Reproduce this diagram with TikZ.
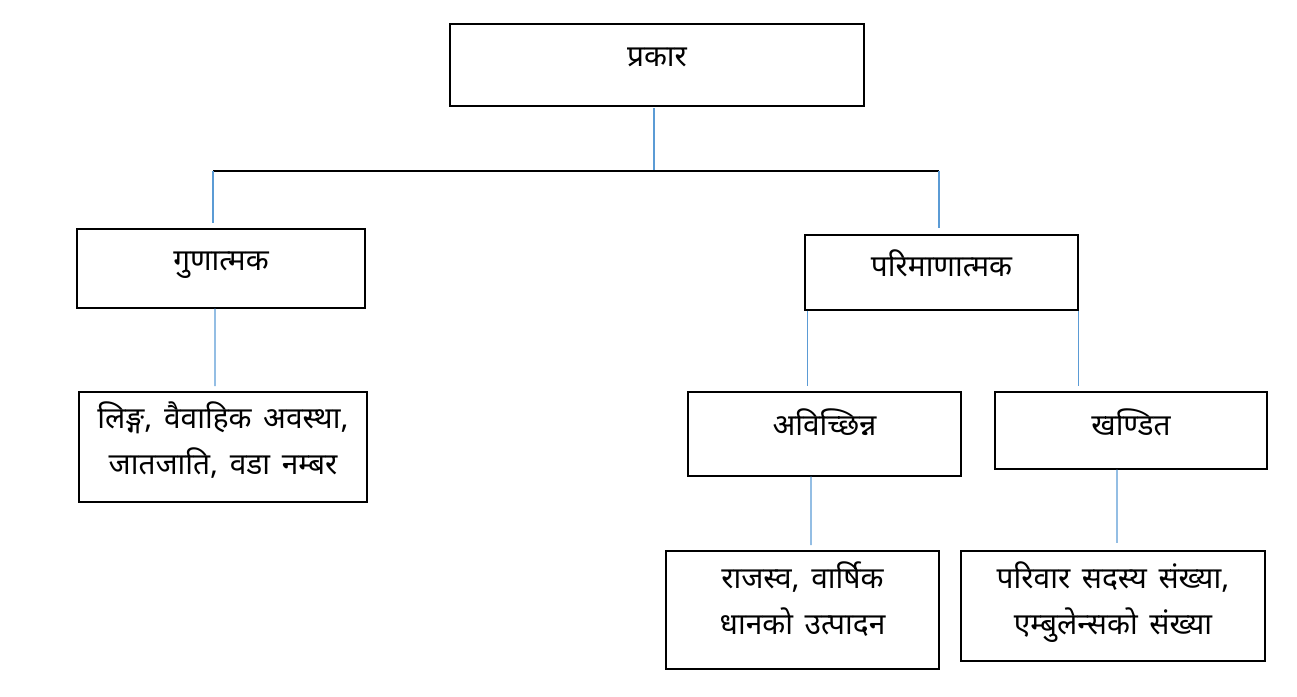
\documentclass[tikz,border=0pt]{standalone}
\usepackage{fontspec}
\newfontfamily\devfont[Script=Devanagari, WordSpace=1.5]{Noto Sans}
\definecolor{linkblue}{RGB}{91,155,213}
\begin{document}
\begin{tikzpicture}[x=0.2mm, y=-0.2mm,
        box/.style={draw, line width=0.85pt, inner sep=0pt, align=center, anchor=north},
        link/.style={draw=linkblue, line width=0.6pt},
        bar/.style={draw=black, line width=0.75pt},
        font=\devfont\fontsize{17}{26.5}\selectfont]
    \useasboundingbox (0,0) rectangle (1297,696);

    \node[box, minimum width=82.8mm, text height=8.6mm,  text depth=7.8mm] (prakar)  at (657,23)    {प्रकार};
    \node[box, minimum width=57.6mm, text height=8.4mm,  text depth=7.4mm] (guna)    at (221,228)   {गुणात्मक};
    \node[box, minimum width=54.6mm, text height=8.4mm,  text depth=6.6mm] (pari)    at (941.5,234) {परिमाणात्मक};
    \node[box, minimum width=57.6mm, text height=16.6mm, text depth=5.4mm] (linga)   at (223,391)   {लिङ्ग, वैवाहिक अवस्था,\\जातजाति, वडा नम्बर};
    \node[box, minimum width=54.6mm, text height=8.8mm,  text depth=8mm]   (avi)     at (824.5,391) {अविच्छिन्न};
    \node[box, minimum width=54.4mm, text height=8.8mm,  text depth=6.6mm] (khandit) at (1131,391)  {खण्डित};
    \node[box, minimum width=54.6mm, text height=16.8mm, text depth=6.8mm] (rajasva) at (802.5,550) {राजस्व, वार्षिक\\धानको उत्पादन};
    \node[box, minimum width=60.8mm, text height=16.8mm, text depth=5.2mm] (pariwar) at (1113,550)  {परिवार सदस्य संख्या,\\एम्बुलेन्सको संख्या};

    \coordinate (hub)  at (654,171);
    \coordinate (barL) at (213,171);
    \coordinate (barR) at (939,171);
    \coordinate (pariL) at ([xshift=0.6mm]pari.south west);

    \draw [link, shorten <=1pt]  (prakar.south -| hub) -- (hub);
    \draw [bar]                  (barL) -- (barR);
    \draw [link, shorten >=2.8pt] (barL) -- (barL |- guna.north);
    \draw [link, shorten >=3.4pt] (barR) -- (barR |- pari.north);
    \draw [link, shorten >=2.8pt] ([xshift=-1.2mm]guna.south) -- ([xshift=-1.6mm]linga.north);
    \draw [link, shorten >=2.8pt] (pariL) -- (pariL |- avi.north);
    \draw [link, shorten >=2.8pt] (pari.south east) -- (pari.south east |- khandit.north);
    \draw [link, shorten >=2.8pt] ([xshift=-2.7mm]avi.south) -- ([xshift=1.7mm]rajasva.north);
    \draw [link, shorten >=4pt]   ([xshift=-2.8mm]khandit.south) -- ([xshift=0.8mm]pariwar.north);
\end{tikzpicture}
\end{document}
